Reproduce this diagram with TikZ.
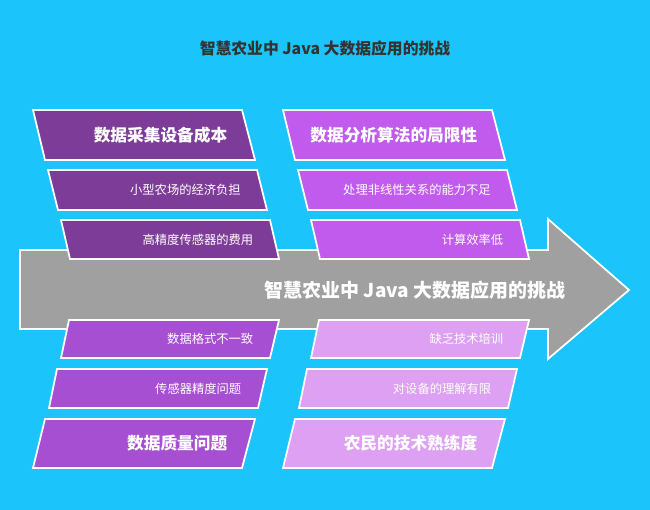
\documentclass[tikz,border=0pt]{standalone}
\usepackage{fontspec}
\setmainfont{Noto Sans CJK SC}
\usetikzlibrary{positioning}

\definecolor{skyblue}{HTML}{1BC5FB}
\definecolor{spine}{HTML}{A0A0A0}
\definecolor{costpurple}{HTML}{7D3C98}
\definecolor{algopurple}{HTML}{C05BEE}
\definecolor{qualpurple}{HTML}{A64FD2}
\definecolor{skillpurple}{HTML}{DDA0F2}

\tikzset{
  bone/.style={draw=white, line width=1pt},
  headtext/.style={anchor=east, text=white, font=\bfseries\fontsize{9.5}{11}\selectfont},
  subtext/.style={anchor=east, text=white, font=\fontsize{7}{8}\selectfont}
}

% #1 name, #2 fill, #3 TL x, #4 TR x, #5 BR x, #6 BL x, #7 top y, #8 bottom y
\newcommand{\slantbox}[8]{%
  \fill[#2, bone] (#3,#7) -- (#4,#7) -- (#5,#8) -- (#6,#8) -- cycle;
  \coordinate (#1) at ({(#4+#5)/2-15},{(#7+#8)/2});}

\begin{document}
\begin{tikzpicture}[x=0.02cm, y=-0.02cm]
  \fill[skyblue] (0,0) rectangle (650,510);
  \useasboundingbox (0,0) rectangle (650,510);

  \node[text=black!80, font=\bfseries\fontsize{9}{11}\selectfont] (title) at (325,48) {智慧农业中 Java 大数据应用的挑战};

  % spine
  \fill[spine, bone] (20,250) -- (548,250) -- (548,219) -- (629,290) -- (548,359) -- (548,329) -- (20,329) -- cycle;
  \node[text=white, font=\bfseries\fontsize{10.8}{12}\selectfont] (spinetext) at (415,290) {智慧农业中 Java 大数据应用的挑战};

  % upper bones
  \slantbox{cost}{costpurple}{33}{242}{255}{45}{110}{160}
  \slantbox{costa}{costpurple}{48}{257}{267}{58}{170}{210}
  \slantbox{costb}{costpurple}{61}{270}{279}{70}{220}{259}
  \slantbox{algo}{algopurple}{283}{492}{505}{295}{110}{160}
  \slantbox{algoa}{algopurple}{298}{507}{517}{308}{170}{210}
  \slantbox{algob}{algopurple}{311}{520}{529}{320}{220}{259}

  % lower bones
  \slantbox{quala}{qualpurple}{69}{279}{270}{61}{320}{358}
  \slantbox{qualb}{qualpurple}{57}{267}{258}{49}{369}{408}
  \slantbox{qual}{qualpurple}{45}{255}{242}{33}{419}{468}
  \slantbox{skilla}{skillpurple}{319}{529}{520}{311}{320}{358}
  \slantbox{skillb}{skillpurple}{307}{517}{508}{299}{369}{408}
  \slantbox{skill}{skillpurple}{295}{505}{492}{283}{419}{468}

  \node[headtext] (costt) at (cost) {数据采集设备成本};
  \node[subtext] (costat) at (costa) {小型农场的经济负担};
  \node[subtext] (costbt) at (costb) {高精度传感器的费用};
  \node[headtext] (algot) at (algo) {数据分析算法的局限性};
  \node[subtext] (algoat) at (algoa) {处理非线性关系的能力不足};
  \node[subtext] (algobt) at (algob) {计算效率低};
  \node[subtext] (qualat) at (quala) {数据格式不一致};
  \node[subtext] (qualbt) at (qualb) {传感器精度问题};
  \node[headtext] (qualt) at (qual) {数据质量问题};
  \node[subtext] (skillat) at (skilla) {缺乏技术培训};
  \node[subtext] (skillbt) at (skillb) {对设备的理解有限};
  \node[headtext] (skillt) at (skill) {农民的技术熟练度};
\end{tikzpicture}
\end{document}
